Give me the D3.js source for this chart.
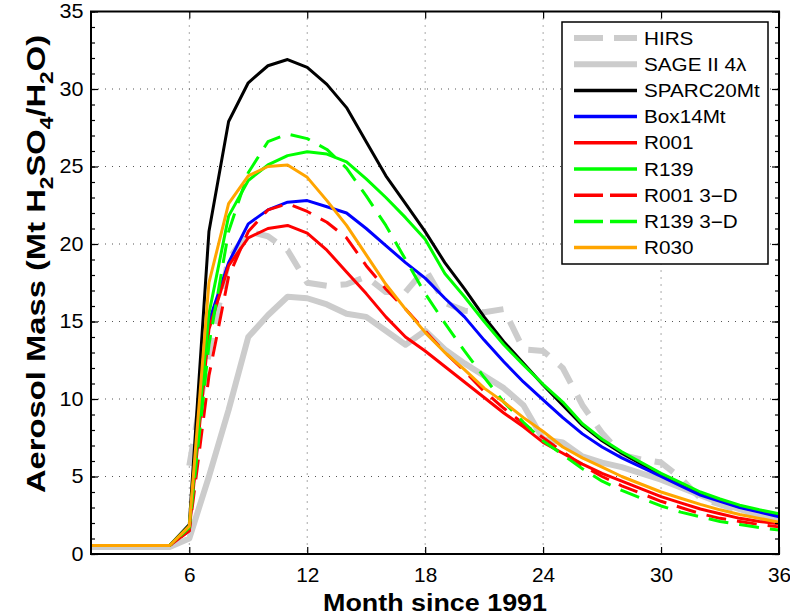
<!DOCTYPE html>
<html>
<head>
<meta charset="utf-8">
<script src="https://cdn.jsdelivr.net/npm/d3@7"></script>
<style>
  body { margin: 0; background: #fff; }
  text { font-family: "Liberation Sans", Arial, Helvetica, sans-serif; }
</style>
</head>
<body>
<div id="chart"></div>
<script>
// months since 1991
const months = [1,2,3,4,5,6,7,8,9,10,11,12,13,14,15,16,17,18,19,20,21,22,23,24,25,26,27,28,29,30,31,32,33,34,35,36];

// series values (Mt H2SO4/H2O)
const hirs     = [null,null,null,null,null,5.7,13.0,19.0,20.8,20.5,19.6,17.5,17.3,17.4,17.9,16.9,16.9,18.4,16.2,15.7,15.6,15.8,13.2,13.1,12.0,9.6,7.8,6.4,6.1,5.9,4.9,3.6,3.2,2.8,2.4,2.1];
const sage     = [0.45,0.45,0.45,0.45,0.45,1.0,5.0,9.3,14.0,15.4,16.6,16.5,16.1,15.5,15.3,14.4,13.5,14.4,13.2,12.3,11.5,10.7,9.6,7.4,7.2,6.3,5.9,5.6,5.2,4.8,4.3,3.8,3.3,2.9,2.5,2.1];
const sparc    = [0.55,0.55,0.55,0.55,0.55,1.9,20.8,27.9,30.4,31.5,31.9,31.4,30.3,28.8,26.6,24.4,22.6,20.8,18.8,17.1,15.3,13.7,12.3,10.9,9.6,8.3,7.3,6.5,5.8,5.1,4.5,3.9,3.45,3.05,2.75,2.45];
const box14    = [0.55,0.55,0.55,0.55,0.55,1.7,15.0,18.8,21.3,22.2,22.7,22.8,22.4,22.0,21.0,19.9,18.8,17.8,16.5,15.3,13.8,12.4,11.1,9.95,8.8,7.75,6.9,6.2,5.6,5.0,4.4,3.8,3.4,3.0,2.7,2.4];
const r001     = [0.55,0.55,0.55,0.55,0.55,1.5,14.5,18.6,20.4,21.0,21.2,20.7,19.6,18.2,16.8,15.3,14.0,13.1,12.1,11.1,10.1,9.1,8.2,7.2,6.5,5.8,5.2,4.7,4.2,3.7,3.3,2.9,2.6,2.3,2.1,1.95];
const r139     = [0.55,0.55,0.55,0.55,0.55,1.8,15.5,21.8,24.1,25.1,25.7,25.95,25.8,25.3,24.2,23.0,21.7,20.3,18.1,16.6,15.0,13.5,12.2,10.95,9.8,8.4,7.4,6.6,5.9,5.2,4.6,4.0,3.55,3.15,2.85,2.6];
const r001_3d  = [0.55,0.55,0.55,0.55,0.55,1.5,11.5,17.9,20.8,22.2,22.6,22.1,21.4,20.4,18.6,17.1,15.8,14.4,13.0,11.8,10.5,9.4,8.4,7.5,6.6,5.7,5.0,4.4,3.9,3.4,3.0,2.6,2.3,2.1,1.9,1.75];
const r139_3d  = [0.55,0.55,0.55,0.55,0.55,1.7,13.5,20.8,24.6,26.6,27.1,26.8,26.1,24.9,23.1,21.2,19.0,16.8,14.9,13.1,11.4,9.8,8.5,7.3,6.4,5.5,4.7,4.1,3.6,3.1,2.7,2.4,2.1,1.9,1.7,1.55];
const r030     = [0.55,0.55,0.55,0.55,0.55,1.8,17.5,22.6,24.4,25.0,25.1,24.3,22.8,21.2,19.3,17.4,15.8,14.3,13.0,11.9,10.7,9.8,8.8,7.9,6.9,6.2,5.6,5.0,4.5,4.0,3.6,3.2,2.85,2.55,2.3,2.05];

const seriesNames = ["HIRS", "SAGE II 4\u03bb", "SPARC20Mt", "Box14Mt", "R001", "R139", "R001 3\u2212D", "R139 3\u2212D", "R030"];
const seriesData = [hirs, sage, sparc, box14, r001, r139, r001_3d, r139_3d, r030];

const xTicks = [6, 12, 18, 24, 30, 36];
const yTicks = [0, 5, 10, 15, 20, 25, 30, 35];

const colors = ["#cccccc", "#cccccc", "#000000", "#0000ff", "#ff0000", "#00ff00", "#ff0000", "#00ff00", "#ffa500"];
const widths = [6, 6, 3, 3, 3, 3, 3, 3, 3];
const dashes = ["22,14", null, null, null, null, null, "20,11", "20,11", null];
const legendDashes = ["29,11", null, null, null, null, null, "29,7", "29,7", null];

const W = 790, H = 616;
const pLeft = 91, pRight = 779, pTop = 11.5, pBottom = 554;

const svg = d3.select("#chart").append("svg")
  .attr("width", W).attr("height", H);

svg.append("rect").attr("width", W).attr("height", H).attr("fill", "#fff");

const x = d3.scaleLinear().domain([1, 36]).range([pLeft, pRight]);
const y = d3.scaleLinear().domain([0, 35]).range([pBottom, pTop]);

// dotted grid
const grid = svg.append("g");
grid.selectAll(".gx").data(xTicks.filter(d => d < 36)).join("line")
  .attr("x1", d => x(d)).attr("x2", d => x(d))
  .attr("y1", pTop).attr("y2", pBottom)
  .attr("stroke", "#555").attr("stroke-width", 1).attr("stroke-dasharray", "1,6");
grid.selectAll(".gy").data(yTicks.filter(d => d > 0 && d < 35)).join("line")
  .attr("x1", pLeft).attr("x2", pRight)
  .attr("y1", d => y(d)).attr("y2", d => y(d))
  .attr("stroke", "#555").attr("stroke-width", 1).attr("stroke-dasharray", "1,6");

// data lines
const line = d3.line()
  .defined(d => d[1] != null)
  .x(d => x(d[0]))
  .y(d => y(d[1]));

seriesData.forEach((vals, i) => {
  const pts = months.map((m, j) => [m, vals[j]]);
  svg.append("path")
    .datum(pts)
    .attr("fill", "none")
    .attr("stroke", colors[i])
    .attr("stroke-width", widths[i])
    .attr("stroke-linejoin", "round")
    .attr("stroke-dasharray", dashes[i])
    .attr("d", line);
});

// axes
const xAxis = svg.append("g").attr("transform", `translate(0,${pBottom})`)
  .call(d3.axisBottom(x).tickValues(xTicks).tickSizeInner(-7).tickSizeOuter(0).tickPadding(14));
const yAxis = svg.append("g").attr("transform", `translate(${pLeft},0)`)
  .call(d3.axisLeft(y).tickValues(yTicks).tickSizeInner(-7).tickSizeOuter(0).tickPadding(7));
svg.append("g").attr("transform", `translate(${pLeft},0)`)
  .call(d3.axisLeft(y).tickValues(d3.range(0, 36)).tickSizeInner(-4).tickSizeOuter(0).tickFormat(""))
  .call(g => g.select(".domain").remove());
svg.append("g").attr("transform", `translate(${pRight},0)`)
  .call(d3.axisRight(y).tickValues(yTicks).tickSizeInner(-7).tickSizeOuter(0).tickFormat(""))
  .call(g => g.select(".domain").remove());
svg.append("g").attr("transform", `translate(${pRight},0)`)
  .call(d3.axisRight(y).tickValues(d3.range(0, 36)).tickSizeInner(-4).tickSizeOuter(0).tickFormat(""))
  .call(g => g.select(".domain").remove());
svg.append("g").attr("transform", `translate(0,${pTop})`)
  .call(d3.axisTop(x).tickValues(xTicks).tickSizeInner(-7).tickSizeOuter(0).tickFormat(""))
  .call(g => g.select(".domain").remove());

[xAxis, yAxis].forEach(g => {
  g.select(".domain").remove();
  g.selectAll("text")
    .attr("font-size", 20)
    .attr("fill", "#000")
    .style("font-family", '"Liberation Sans", Arial, sans-serif');
});
xAxis.selectAll("text").attr("dy", "0.71em").attr("transform", "scale(1.04,1)");
yAxis.selectAll("text").attr("transform", "scale(1.08,1)");
svg.selectAll(".tick line").attr("stroke", "#000").attr("stroke-width", 1.2);

// plot frame
svg.append("rect")
  .attr("x", pLeft).attr("y", pTop)
  .attr("width", pRight - pLeft).attr("height", pBottom - pTop)
  .attr("fill", "none").attr("stroke", "#000").attr("stroke-width", 2);

// axis titles
svg.append("text")
  .attr("transform", `translate(435,611) scale(1.12,1)`)
  .attr("text-anchor", "middle")
  .attr("font-size", 24).attr("font-weight", "bold")
  .text("Month since 1991");

const yl = svg.append("text")
  .attr("transform", `translate(45,264) rotate(-90) scale(1.26,1)`)
  .attr("text-anchor", "middle")
  .attr("font-size", 26).attr("font-weight", "bold");
yl.append("tspan").text("Aerosol Mass (Mt H");
yl.append("tspan").attr("font-size", 18).attr("dy", 8).text("2");
yl.append("tspan").attr("dy", -8).text("SO");
yl.append("tspan").attr("font-size", 18).attr("dy", 8).text("4");
yl.append("tspan").attr("dy", -8).text("/H");
yl.append("tspan").attr("font-size", 18).attr("dy", 8).text("2");
yl.append("tspan").attr("dy", -8).text("O)");

// legend
const legend = svg.append("g");
legend.append("rect")
  .attr("x", 562).attr("y", 22).attr("width", 206).attr("height", 242)
  .attr("fill", "#fff").attr("stroke", "#000").attr("stroke-width", 1.5);

seriesNames.forEach((name, i) => {
  const ly = 38 + i * 26.2;
  legend.append("line")
    .attr("x1", 574).attr("x2", 637).attr("y1", ly).attr("y2", ly)
    .attr("stroke", colors[i])
    .attr("stroke-width", i < 2 ? 6 : 3.5)
    .attr("stroke-dasharray", legendDashes[i]);
  legend.append("text")
    .attr("transform", `translate(644,${ly + 6.5}) scale(1.15,1)`)
    .attr("font-size", 18)
    .text(name);
});
</script>
</body>
</html>
